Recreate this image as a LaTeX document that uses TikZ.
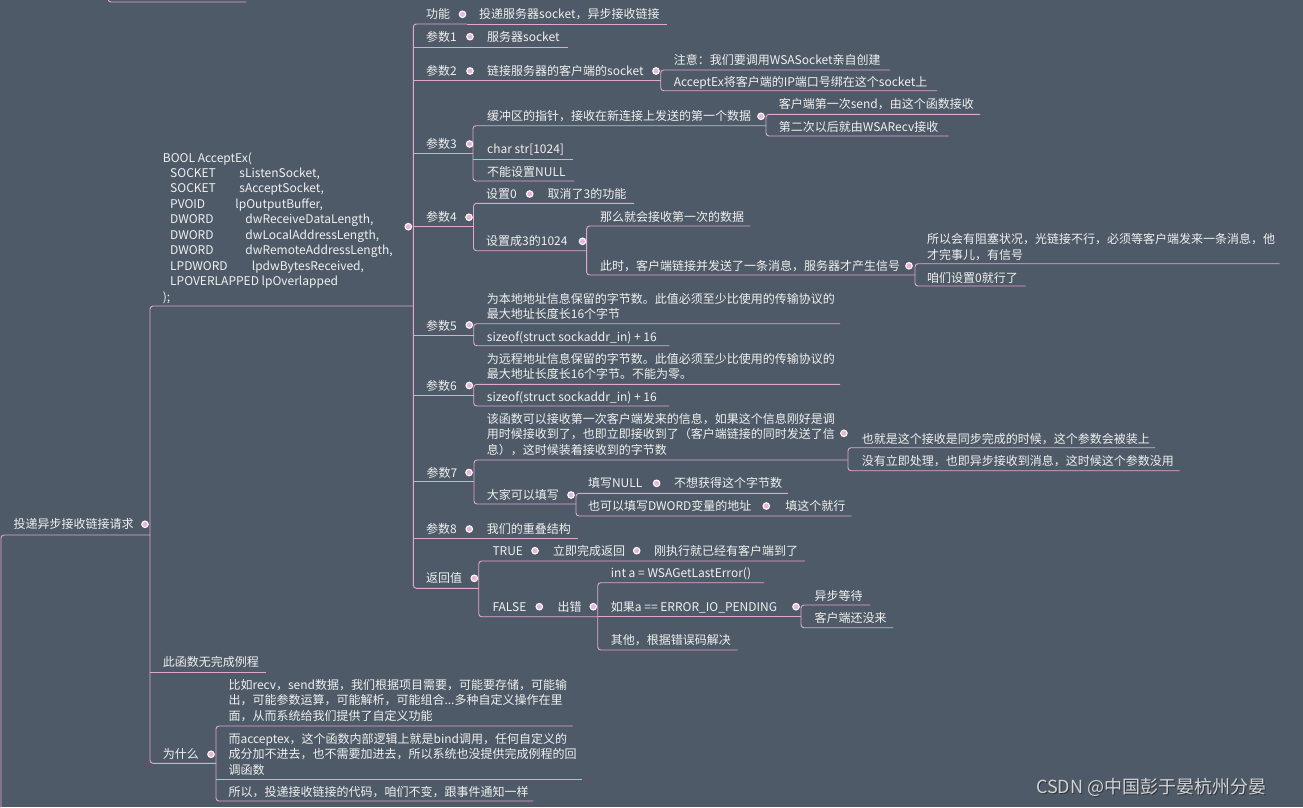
\documentclass[tikz,border=0pt]{standalone}
\usepackage{fontspec}
\setmainfont{Noto Sans CJK SC}
\definecolor{bgc}{HTML}{4E5A67}
\definecolor{linec}{HTML}{E2A9CF}
\definecolor{txtc}{HTML}{F0F0F0}
\definecolor{dotc}{HTML}{E8B4D8}
\definecolor{wmc}{HTML}{D4D4D4}
\definecolor{wms}{HTML}{2E353E}
\newcommand{\mlines}[1]{\begin{tabular}[t]{@{}l@{}}#1\end{tabular}}
\tikzset{
  ln/.style={draw=linec, line width=0.9pt, rounded corners=3pt},
  tx/.style={anchor=base west, inner sep=0pt, text=txtc, font=\fontsize{12}{15.4}\selectfont},
  dot/.style={circle, inner sep=0pt, minimum size=6.5pt, fill=dotc, draw=white, line width=1.1pt},
}
\begin{document}
\begin{tikzpicture}[x=1pt,y=-1pt]
\fill[bgc] (0,0) rectangle (1303,807);
\useasboundingbox (0,0) rectangle (1303,807);

% ---------- underline coordinates ----------
\coordinate (tp-b) at (246,2); \coordinate (tp-a) at (108,2); \coordinate (tp-u) at (108,-12);
\coordinate (root-a) at (1,535); \coordinate (root-b) at (150,535); \coordinate (root-d) at (1,822);
\coordinate (bool-a) at (150,306); \coordinate (bool-b) at (413.3,306);
\coordinate (nocr-a) at (150,672.3); \coordinate (nocr-b) at (266,672.3);
\coordinate (why-a) at (150,763.3); \coordinate (why-b) at (216,763.3);
\coordinate (wA-a) at (216,726); \coordinate (wA-b) at (572.7,726);
\coordinate (wB-a) at (216,779); \coordinate (wB-b) at (581.7,779);
\coordinate (wC-a) at (216,801); \coordinate (wC-b) at (533.3,801);

\coordinate (gn-a) at (413.3,24); \coordinate (gn-b) at (467,24); \coordinate (gnc-b) at (667,24);
\coordinate (p1-a) at (413.3,47.3); \coordinate (p1-b) at (476,47.3); \coordinate (p1c-b) at (568,47.3);
\coordinate (p2-a) at (413.3,80.7); \coordinate (p2-b) at (476,80.7); \coordinate (p2c-b) at (660.7,80.7);
\coordinate (p3-a) at (413.3,153.3); \coordinate (p3-b) at (473,153.3);
\coordinate (p4-a) at (413.3,226.7); \coordinate (p4-b) at (473.5,226.7);
\coordinate (p5-a) at (413.3,335); \coordinate (p5-b) at (473.7,335);
\coordinate (p6-a) at (413.3,395); \coordinate (p6-b) at (473.7,395);
\coordinate (p7-a) at (413.3,481.7); \coordinate (p7-b) at (474,481.7);
\coordinate (p8-a) at (413.3,538.3); \coordinate (p8-b) at (476,538.3); \coordinate (p8c-b) at (578.3,538.3);
\coordinate (rv-a) at (413.3,588.3); \coordinate (rv-b) at (478.7,588.3);

\coordinate (n2a-a) at (660.7,70); \coordinate (n2a-b) at (890,70);
\coordinate (n2b-a) at (660.7,90.7); \coordinate (n2b-b) at (937,90.7);

\coordinate (buf-a) at (473,125.7); \coordinate (buf-b) at (766,125.7);
\coordinate (chr-a) at (473,159); \coordinate (chr-b) at (572.5,159);
\coordinate (nul3-a) at (473,181); \coordinate (nul3-b) at (574,181);
\coordinate (s1-a) at (766,114.3); \coordinate (s1-b) at (980,114.3);
\coordinate (s2-a) at (766,136); \coordinate (s2-b) at (948.6,136);

\coordinate (z0-a) at (473.5,203.3); \coordinate (z0-b) at (539,203.3); \coordinate (z0c-b) at (634,203.3);
\coordinate (z1-a) at (473.5,250.7); \coordinate (z1-b) at (586.6,250.7);
\coordinate (nm-a) at (586.6,226); \coordinate (nm-b) at (750,226);
\coordinate (cs-a) at (586.6,275); \coordinate (cs-b) at (915,275);
\coordinate (sy-a) at (915,263.7); \coordinate (sy-b) at (1279.5,263.7);
\coordinate (zm-a) at (915,286); \coordinate (zm-b) at (1025.7,286);

\coordinate (lc-a) at (473.7,323.7); \coordinate (lc-b) at (840,323.7);
\coordinate (sz5-a) at (473.7,345.7); \coordinate (sz5-b) at (669.3,345.7);
\coordinate (rm-a) at (473.7,384.3); \coordinate (rm-b) at (840,384.3);
\coordinate (sz6-a) at (473.7,406); \coordinate (sz6-b) at (669.3,406);

\coordinate (fn-a) at (474,460); \coordinate (fn-b) at (848,460);
\coordinate (fl-a) at (474,504); \coordinate (fl-b) at (576,504);
\coordinate (sc-a) at (848,447.7); \coordinate (sc-b) at (1155,447.7);
\coordinate (as-a) at (848,470.7); \coordinate (as-b) at (1179.6,470.7);
\coordinate (nl-a) at (576,493.3); \coordinate (nl-b) at (665,493.3); \coordinate (nlc-b) at (787.8,493.3);
\coordinate (dw-a) at (576,516); \coordinate (dw-b) at (775,516); \coordinate (dwc-b) at (851.5,516);

\coordinate (tr-a) at (478.7,561); \coordinate (tr-b) at (544,561); \coordinate (tr2-b) at (645,561); \coordinate (tr3-b) at (805,561);
\coordinate (fa-a) at (478.7,616.7); \coordinate (fa-b) at (548,616.7); \coordinate (fa2-b) at (597.7,616.7);
\coordinate (ia-a) at (597.7,582.7); \coordinate (ia-b) at (764,582.7);
\coordinate (ifp-a) at (597.7,616.7); \coordinate (ifp-b) at (801,616.7);
\coordinate (ot-a) at (597.7,650); \coordinate (ot-b) at (737.7,650);
\coordinate (yb-a) at (801,605); \coordinate (yb-b) at (870,605);
\coordinate (kh-a) at (801,627.7); \coordinate (kh-b) at (893.3,627.7);

% ---------- connectors ----------
\draw[ln] (tp-b) -- (tp-a) -- (tp-u);
\draw[ln] (root-b) -- (root-a) -- (root-d);
\draw[ln] (bool-b) -- (bool-a) -- (why-a) -- (why-b);
\draw[ln] (nocr-a) -- (nocr-b);
\draw[ln] (wA-b) -- (wA-a) -- (wC-a) -- (wC-b);
\draw[ln] (wB-a) -- (wB-b);

\draw[ln] (gn-b) -- (gn-a) -- (rv-a) -- (rv-b);
\draw[ln] (gn-b) -- (gnc-b);
\draw[ln] (p1-a) -- (p1-b) -- (p1c-b);
\draw[ln] (p2-a) -- (p2-b) -- (p2c-b);
\draw[ln] (p3-a) -- (p3-b);
\draw[ln] (p4-a) -- (p4-b);
\draw[ln] (p5-a) -- (p5-b);
\draw[ln] (p6-a) -- (p6-b);
\draw[ln] (p7-a) -- (p7-b);
\draw[ln] (p8-a) -- (p8-b) -- (p8c-b);

\draw[ln] (n2a-b) -- (n2a-a) -- (n2b-a) -- (n2b-b);

\draw[ln] (buf-b) -- (buf-a) -- (nul3-a) -- (nul3-b);
\draw[ln] (chr-a) -- (chr-b);
\draw[ln] (s1-b) -- (s1-a) -- (s2-a) -- (s2-b);

\draw[ln] (z0c-b) -- (z0-b) -- (z0-a) -- (z1-a) -- (z1-b);
\draw[ln] (nm-b) -- (nm-a) -- (cs-a) -- (cs-b);
\draw[ln] (sy-b) -- (sy-a) -- (zm-a) -- (zm-b);

\draw[ln] (lc-b) -- (lc-a) -- (sz5-a) -- (sz5-b);
\draw[ln] (rm-b) -- (rm-a) -- (sz6-a) -- (sz6-b);

\draw[ln] (fn-b) -- (fn-a) -- (fl-a) -- (fl-b);
\draw[ln] (sc-b) -- (sc-a) -- (as-a) -- (as-b);
\draw[ln] (nlc-b) -- (nl-b) -- (nl-a) -- (dw-a) -- (dw-b) -- (dwc-b);

\draw[ln] (tr3-b) -- (tr2-b) -- (tr-b) -- (tr-a) -- (fa-a) -- (fa-b) -- (fa2-b);
\draw[ln] (ia-b) -- (ia-a) -- (ot-a) -- (ot-b);
\draw[ln] (ifp-a) -- (ifp-b);
\draw[ln] (yb-b) -- (yb-a) -- (kh-a) -- (kh-b);

% ---------- texts ----------
\node[tx] (root) at (13.3,528.8) {投递异步接收链接请求};
\node[tx, font=\fontsize{12}{15.45}\selectfont] (bool) at (162.7,162) {\mlines{BOOL AcceptEx(\\
\hspace*{7.3pt}\makebox[69.3pt][l]{SOCKET}sListenSocket,\\
\hspace*{7.3pt}\makebox[69.3pt][l]{SOCKET}sAcceptSocket,\\
\hspace*{7.3pt}\makebox[65.3pt][l]{PVOID}lpOutputBuffer,\\
\hspace*{7.3pt}\makebox[75.3pt][l]{DWORD}dwReceiveDataLength,\\
\hspace*{7.3pt}\makebox[75.3pt][l]{DWORD}dwLocalAddressLength,\\
\hspace*{7.3pt}\makebox[75.3pt][l]{DWORD}dwRemoteAddressLength,\\
\hspace*{7.3pt}\makebox[81.7pt][l]{LPDWORD}lpdwBytesReceived,\\
\hspace*{7.3pt}LPOVERLAPPED lpOverlapped\\
);}};
\node[tx] (nocr) at (162.7,666.8) {此函数无完成例程};
\node[tx] (why) at (162.7,758.8) {为什么};
\node[tx] (wA) at (228.3,689.5) {\mlines{比如recv，send数据，我们根据项目需要，可能要存储，可能输\\出，可能参数运算，可能解析，可能组合...多种自定义操作在里\\面，从而系统给我们提供了自定义功能}};
\node[tx] (wB) at (228.3,743.5) {\mlines{而acceptex，这个函数内部逻辑上就是bind调用，任何自定义的\\成分加不进去，也不需要加进去，所以系统也没提供完成例程的回\\调函数}};
\node[tx] (wC) at (228.3,796.8) {所以，投递接收链接的代码，咱们不变，跟事件通知一样};

\node[tx] (gn) at (426,18.8) {功能};
\node[tx] (gnc) at (479,18.8) {投递服务器socket，异步接收链接};
\node[tx] (p1) at (426,41.2) {参数1};
\node[tx] (p1c) at (487,41.2) {服务器socket};
\node[tx] (p2) at (426,75.5) {参数2};
\node[tx] (p2c) at (487,75.5) {链接服务器的客户端的socket};
\node[tx] (n2a) at (673.6,64.5) {注意：我们要调用WSASocket亲自创建};
\node[tx] (n2b) at (673.6,86.2) {AcceptEx将客户端的IP端口号绑在这个socket上};
\node[tx] (p3) at (426,148.5) {参数3};
\node[tx] (buf) at (487,120.8) {缓冲区的指针，接收在新连接上发送的第一个数据};
\node[tx] (s1) at (778.6,108.5) {客户端第一次send，由这个函数接收};
\node[tx] (s2) at (778.6,131.2) {第二次以后就由WSARecv接收};
\node[tx] (chr) at (487,153.5) {char str[1024]};
\node[tx] (nul3) at (487,176.2) {不能设置NULL};
\node[tx] (p4) at (426,221.8) {参数4};
\node[tx] (z0) at (486,198.5) {设置0};
\node[tx] (z0c) at (547.5,198.5) {取消了3的功能};
\node[tx] (z1) at (486,245.8) {设置成3的1024};
\node[tx] (nm) at (599.8,221.2) {那么就会接收第一次的数据};
\node[tx] (cs) at (599.8,270.5) {此时，客户端链接并发送了一条消息，服务器才产生信号};
\node[tx] (sy) at (927,243.8) {\mlines{所以会有阻塞状况，光链接不行，必须等客户端发来一条消息，他\\才完事儿，有信号}};
\node[tx] (zm) at (927,282.2) {咱们设置0就行了};
\node[tx] (p5) at (426,330) {参数5};
\node[tx] (lc) at (486.7,303.5) {\mlines{为本地地址信息保留的字节数。此值必须至少比使用的传输协议的\\最大地址长度长16个字节}};
\node[tx] (sz5) at (486.7,341.2) {sizeof(struct sockaddr\_in) + 16};
\node[tx] (p6) at (426,390) {参数6};
\node[tx] (rm) at (486.7,363.5) {\mlines{为远程地址信息保留的字节数。此值必须至少比使用的传输协议的\\最大地址长度长16个字节。不能为零。}};
\node[tx] (sz6) at (486.7,401.2) {sizeof(struct sockaddr\_in) + 16};
\node[tx] (p7) at (426.5,477) {参数7};
\node[tx] (fn) at (486.7,423.5) {\mlines{该函数可以接收第一次客户端发来的信息，如果这个信息刚好是调\\用时候接收到了，也即立即接收到了（客户端链接的同时发送了信\\息），这时候装着接收到的字节数}};
\node[tx] (sc) at (861.7,443.8) {也就是这个接收是同步完成的时候，这个参数会被装上};
\node[tx] (as) at (861.7,465.5) {没有立即处理，也即异步接收到消息，这时候这个参数没用};
\node[tx] (fl) at (486.7,499.5) {大家可以填写};
\node[tx] (nl) at (587.8,487.8) {填写NULL};
\node[tx] (nlc) at (674,487.8) {不想获得这个字节数};
\node[tx] (dw) at (587.8,510.5) {也可以填写DWORD变量的地址};
\node[tx] (dwc) at (785.2,510.5) {填这个就行};
\node[tx] (p8) at (426,533.5) {参数8};
\node[tx] (p8c) at (486.7,533.5) {我们的重叠结构};
\node[tx] (rv) at (426,582.8) {返回值};
\node[tx] (tr) at (492.3,555.2) {TRUE};
\node[tx] (tr2) at (553,555.2) {立即完成返回};
\node[tx] (tr3) at (654,555.2) {刚执行就已经有客户端到了};
\node[tx] (fa) at (492.3,611.2) {FALSE};
\node[tx] (fa2) at (557.3,611.2) {出错};
\node[tx] (ia) at (610.7,577.8) {int a = WSAGetLastError()};
\node[tx] (ifp) at (610.7,611.2) {如果a == ERROR\_IO\_PENDING};
\node[tx] (yb) at (814.3,600.5) {异步等待};
\node[tx] (kh) at (814.3,622.2) {客户端还没来};
\node[tx] (ot) at (610.7,644.5) {其他，根据错误码解决};

% ---------- dots ----------
\node[dot] (d-root) at (145,524.3) {};
\node[dot] (d-bool) at (408.3,226.7) {};
\node[dot] (d-why) at (211,754.3) {};
\node[dot] (d-gn) at (462.5,14.3) {};
\node[dot] (d-p1) at (470,36.7) {};
\node[dot] (d-p2) at (470,71) {};
\node[dot] (d-p2c) at (656,71) {};
\node[dot] (d-p3) at (469.6,144) {};
\node[dot] (d-buf) at (761,116.3) {};
\node[dot] (d-p4) at (469,217.3) {};
\node[dot] (d-z0) at (529.7,194) {};
\node[dot] (d-z1) at (582.5,241.3) {};
\node[dot] (d-cs) at (909,265.8) {};
\node[dot] (d-p5) at (469.3,325) {};
\node[dot] (d-p6) at (469.3,385.5) {};
\node[dot] (d-p7) at (469,472.5) {};
\node[dot] (d-fn) at (843.9,433.3) {};
\node[dot] (d-fl) at (571,495) {};
\node[dot] (d-nl) at (656.6,483.3) {};
\node[dot] (d-dw) at (766.3,506) {};
\node[dot] (d-p8) at (469.3,529) {};
\node[dot] (d-rv) at (474.3,578.3) {};
\node[dot] (d-tr) at (535,550.7) {};
\node[dot] (d-tr2) at (636.7,550.7) {};
\node[dot] (d-fa) at (539.3,606.7) {};
\node[dot] (d-fa2) at (593.3,606.7) {};
\node[dot] (d-ifp) at (796,606.7) {};

% ---------- watermark ----------
\node[anchor=base west, inner sep=0pt, text=wms, font=\fontsize{18}{18}\selectfont] (wms) at (1037,794.5) {CSDN @中国彭于晏杭州分晏};
\node[anchor=base west, inner sep=0pt, text=wmc, font=\fontsize{18}{18}\selectfont] (wm) at (1036,793.5) {CSDN @中国彭于晏杭州分晏};
\end{tikzpicture}
\end{document}
